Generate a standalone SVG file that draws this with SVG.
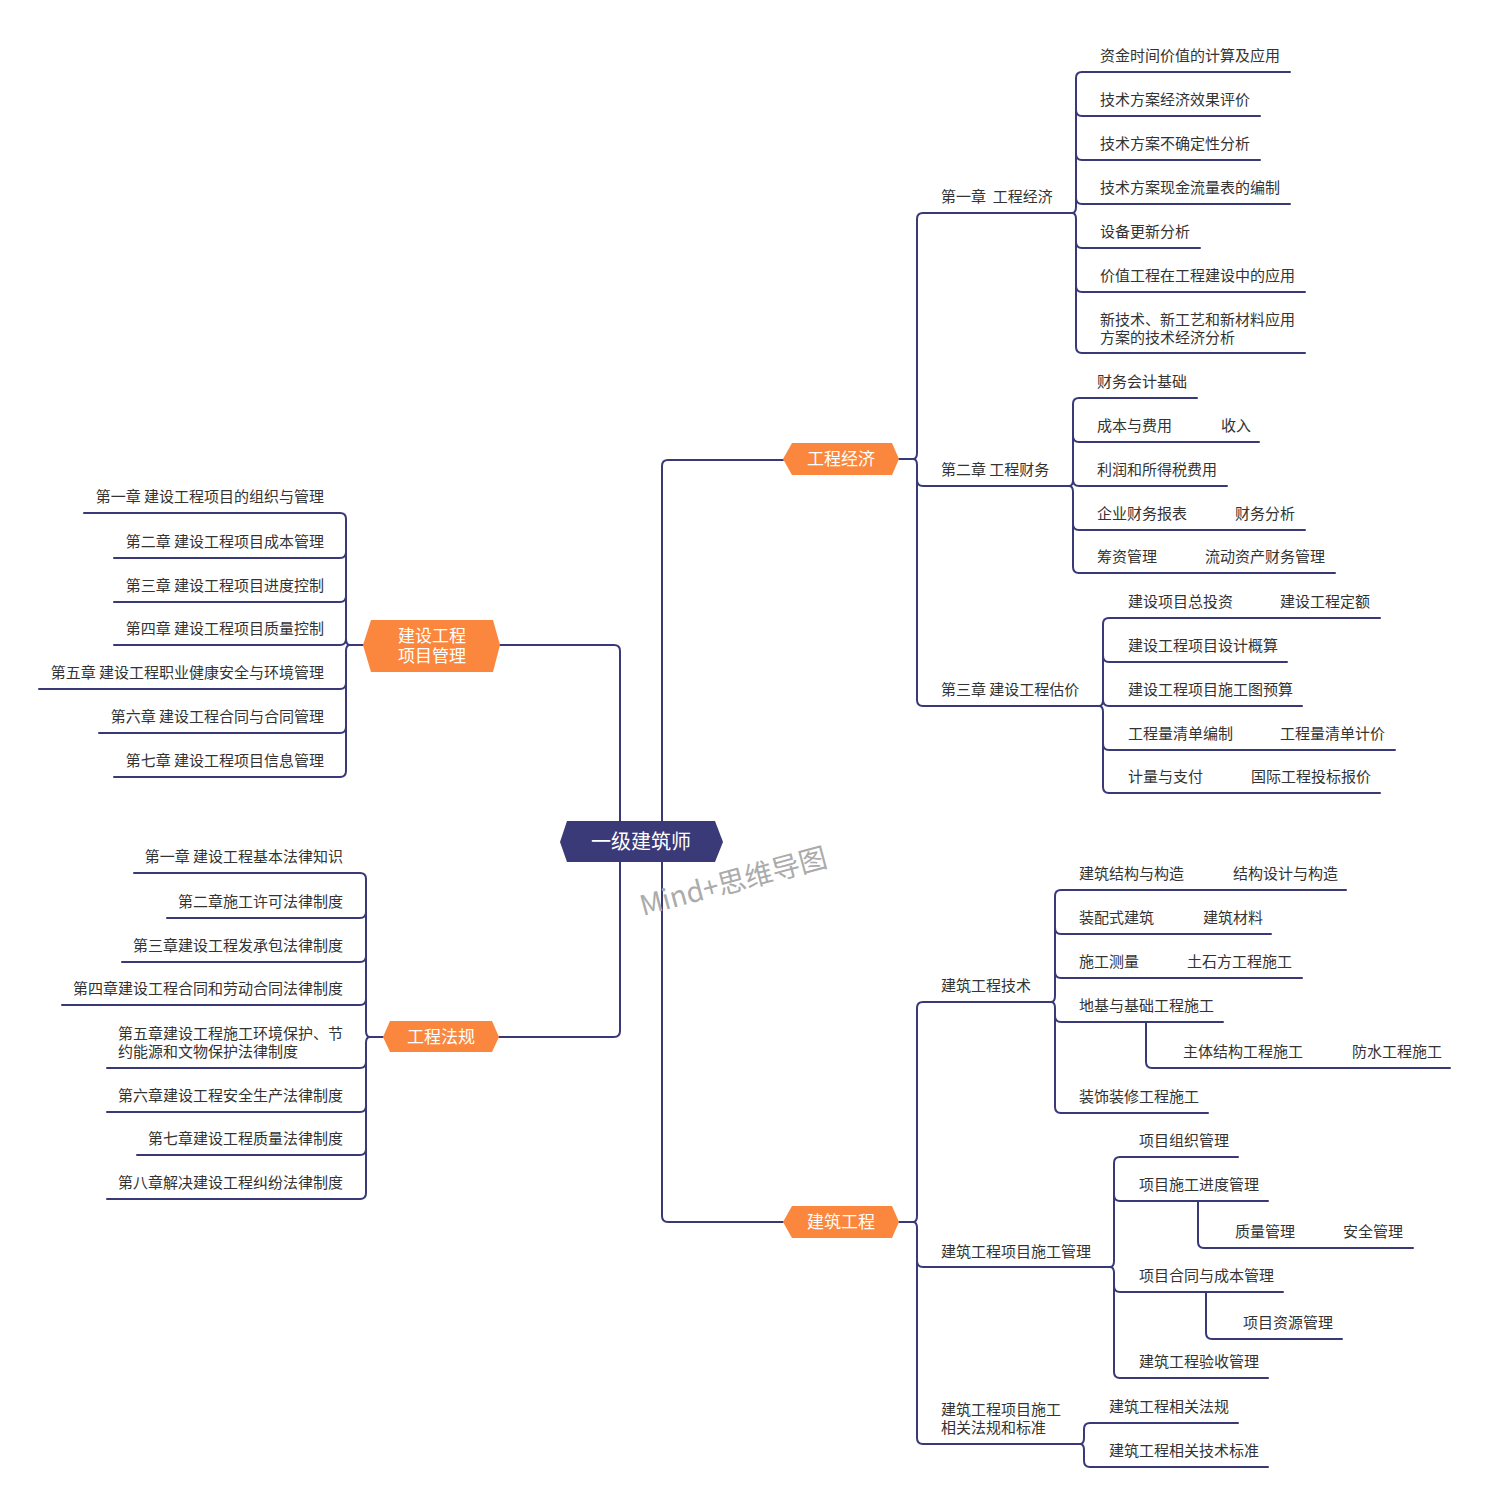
<svg xmlns="http://www.w3.org/2000/svg" width="1489" height="1507" viewBox="0 0 1489 1507">
<style>
.ln{fill:none;stroke:#393978;stroke-width:2;stroke-linecap:round;stroke-linejoin:round}
.t{font-family:"Noto Sans CJK SC","Noto Sans",sans-serif;font-size:15px;fill:#333}
.e{text-anchor:end}
.on{fill:#fa873d}
.ot{font-family:"Noto Sans CJK SC","Noto Sans",sans-serif;font-size:17px;fill:#fff;text-anchor:middle}
.wm{font-family:"Noto Sans CJK SC","Noto Sans",sans-serif;font-size:28px;fill:#ababab}
</style>
<rect width="1489" height="1507" fill="#fff"/>
<g id="connectors" class="ln">
<path d="M500 645 H614 Q620 645 620 651 V821"/>
<path d="M499 1037 H614 Q620 1037 620 1031 V862"/>
<path d="M662 821 V466 Q662 460 668 460 H783"/>
<path d="M662 862 V1216 Q662 1222 668 1222 H783"/>
<path d="M899 459 H913"/>
<path d="M923 213 Q917 213 917 219 V453 Q917 459 913 459 Q917 459 917 465 V700 Q917 706 923 706"/>
<path d="M923 213 H1072"/>
<path d="M917 480 Q917 486 923 486 H1069"/>
<path d="M923 706 H1099"/>
<path d="M1082 72 Q1076 72 1076 78 V207 Q1076 213 1072 213 Q1076 213 1076 219 V347 Q1076 353 1082 353"/>
<path d="M1082 72 H1290"/>
<path d="M1076 110 Q1076 116 1082 116 H1260"/>
<path d="M1076 154 Q1076 160 1082 160 H1260"/>
<path d="M1076 198 Q1076 204 1082 204 H1290"/>
<path d="M1076 242 Q1076 248 1082 248 H1200"/>
<path d="M1076 286 Q1076 292 1082 292 H1305"/>
<path d="M1082 353 H1305"/>
<path d="M1079 398 Q1073 398 1073 404 V480 Q1073 486 1069 486 Q1073 486 1073 492 V567 Q1073 573 1079 573"/>
<path d="M1079 398 H1197"/>
<path d="M1073 436 Q1073 442 1079 442 H1259"/>
<path d="M1073 480 Q1073 486 1079 486 H1227"/>
<path d="M1073 524 Q1073 530 1079 530 H1305"/>
<path d="M1079 573 H1335"/>
<path d="M1109 618 Q1103 618 1103 624 V700 Q1103 706 1099 706 Q1103 706 1103 712 V787 Q1103 793 1109 793"/>
<path d="M1109 618 H1380"/>
<path d="M1103 656 Q1103 662 1109 662 H1287"/>
<path d="M1103 700 Q1103 706 1109 706 H1302"/>
<path d="M1103 744 Q1103 750 1109 750 H1395"/>
<path d="M1109 793 H1380"/>
<path d="M899 1222 H913"/>
<path d="M923 1002 Q917 1002 917 1008 V1216 Q917 1222 913 1222 Q917 1222 917 1228 V1438 Q917 1444 923 1444"/>
<path d="M923 1002 H1051"/>
<path d="M917 1261 Q917 1267 923 1267 H1110"/>
<path d="M923 1444 H1080"/>
<path d="M1061 890 Q1055 890 1055 896 V996 Q1055 1002 1051 1002 Q1055 1002 1055 1008 V1107 Q1055 1113 1061 1113"/>
<path d="M1061 890 H1346"/>
<path d="M1055 928 Q1055 934 1061 934 H1271"/>
<path d="M1055 972 Q1055 978 1061 978 H1302"/>
<path d="M1055 1016 Q1055 1022 1061 1022 H1223"/>
<path d="M1061 1113 H1208"/>
<path d="M1146 1022 V1062 Q1146 1068 1152 1068 H1450"/>
<path d="M1120 1157 Q1114 1157 1114 1163 V1261 Q1114 1267 1110 1267 Q1114 1267 1114 1273 V1372 Q1114 1378 1120 1378"/>
<path d="M1120 1157 H1238"/>
<path d="M1114 1195 Q1114 1201 1120 1201 H1268"/>
<path d="M1114 1286 Q1114 1292 1120 1292 H1283"/>
<path d="M1120 1378 H1268"/>
<path d="M1198 1201 V1242 Q1198 1248 1204 1248 H1413"/>
<path d="M1206 1292 V1333 Q1206 1339 1212 1339 H1342"/>
<path d="M1090 1423 Q1084 1423 1084 1429 V1438 Q1084 1444 1080 1444 Q1084 1444 1084 1450 V1461 Q1084 1467 1090 1467"/>
<path d="M1090 1423 H1238"/>
<path d="M1090 1467 H1268"/>
<path d="M363 645 H350"/>
<path d="M340 513 Q346 513 346 519 V639 Q346 645 350 645 Q346 645 346 651 V771 Q346 777 340 777"/>
<path d="M340 513 H84"/>
<path d="M346 552 Q346 558 340 558 H114"/>
<path d="M346 596 Q346 602 340 602 H114"/>
<path d="M346 639 Q346 645 340 645 H114"/>
<path d="M346 683 Q346 689 340 689 H39"/>
<path d="M346 727 Q346 733 340 733 H99"/>
<path d="M340 777 H114"/>
<path d="M383 1037 H370"/>
<path d="M360 873 Q366 873 366 879 V1031 Q366 1037 370 1037 Q366 1037 366 1043 V1193 Q366 1199 360 1199"/>
<path d="M360 873 H134"/>
<path d="M366 912 Q366 918 360 918 H167"/>
<path d="M366 956 Q366 962 360 962 H122"/>
<path d="M366 999 Q366 1005 360 1005 H62"/>
<path d="M366 1062 Q366 1068 360 1068 H107"/>
<path d="M366 1106 Q366 1112 360 1112 H107"/>
<path d="M366 1149 Q366 1155 360 1155 H137"/>
<path d="M360 1199 H107"/>
</g>
<g id="root">
<polygon points="560,842 567,821 715,821 723,842 715,862 567,862" fill="#3a3a78"/>
<text x="641" y="849" font-family="Noto Sans CJK SC, Noto Sans, sans-serif" font-size="20" fill="#fff" text-anchor="middle">一级建筑师</text>
</g>
<g id="n-gcjj">
<polygon class="on" points="783,459 792,443 892,443 899,459 892,475 792,475"/>
<text class="ot" x="841" y="465">工程经济</text>
</g>
<g id="n-jzgc">
<polygon class="on" points="783,1222 792,1206 892,1206 899,1222 892,1238 792,1238"/>
<text class="ot" x="841" y="1228">建筑工程</text>
</g>
<g id="n-xmgl">
<polygon class="on" points="363,645 371,620 493,620 500,645 493,672 371,672"/>
<text class="ot" x="432" y="641.5">建设工程<tspan x="432" dy="20">项目管理</tspan></text>
</g>
<g id="n-gcfg">
<polygon class="on" points="383,1037 390,1021 492,1021 499,1037 492,1052 390,1052"/>
<text class="ot" x="441" y="1043">工程法规</text>
</g>
<g id="gcjj-children">
<g id="c1"><text class="t" x="941" y="202" xml:space="preserve">第一章  工程经济</text></g>
<g id="c1-1"><text class="t" x="1100" y="61">资金时间价值的计算及应用</text></g>
<g id="c1-2"><text class="t" x="1100" y="105">技术方案经济效果评价</text></g>
<g id="c1-3"><text class="t" x="1100" y="149">技术方案不确定性分析</text></g>
<g id="c1-4"><text class="t" x="1100" y="193">技术方案现金流量表的编制</text></g>
<g id="c1-5"><text class="t" x="1100" y="237">设备更新分析</text></g>
<g id="c1-6"><text class="t" x="1100" y="281">价值工程在工程建设中的应用</text></g>
<g id="c1-7"><text class="t" x="1100" y="325">新技术、新工艺和新材料应用<tspan x="1100" dy="18">方案的技术经济分析</tspan></text></g>
<g id="c2"><text class="t" x="941" y="475">第二章 工程财务</text></g>
<g id="c2-1"><text class="t" x="1097" y="387">财务会计基础</text></g>
<g id="c2-2"><text class="t" x="1097" y="431">成本与费用</text><text class="t" x="1221" y="431">收入</text></g>
<g id="c2-3"><text class="t" x="1097" y="475">利润和所得税费用</text></g>
<g id="c2-4"><text class="t" x="1097" y="519">企业财务报表</text><text class="t" x="1235" y="519">财务分析</text></g>
<g id="c2-5"><text class="t" x="1097" y="562">筹资管理</text><text class="t" x="1205" y="562">流动资产财务管理</text></g>
<g id="c3"><text class="t" x="941" y="695">第三章 建设工程估价</text></g>
<g id="c3-1"><text class="t" x="1128" y="607">建设项目总投资</text><text class="t" x="1280" y="607">建设工程定额</text></g>
<g id="c3-2"><text class="t" x="1128" y="651">建设工程项目设计概算</text></g>
<g id="c3-3"><text class="t" x="1128" y="695">建设工程项目施工图预算</text></g>
<g id="c3-4"><text class="t" x="1128" y="739">工程量清单编制</text><text class="t" x="1280" y="739">工程量清单计价</text></g>
<g id="c3-5"><text class="t" x="1128" y="782">计量与支付</text><text class="t" x="1251" y="782">国际工程投标报价</text></g>
</g>
<g id="jzgc-children">
<g id="d1"><text class="t" x="941" y="991">建筑工程技术</text></g>
<g id="d1-1"><text class="t" x="1079" y="879">建筑结构与构造</text><text class="t" x="1233" y="879">结构设计与构造</text></g>
<g id="d1-2"><text class="t" x="1079" y="923">装配式建筑</text><text class="t" x="1203" y="923">建筑材料</text></g>
<g id="d1-3"><text class="t" x="1079" y="967">施工测量</text><text class="t" x="1187" y="967">土石方工程施工</text></g>
<g id="d1-4"><text class="t" x="1079" y="1011">地基与基础工程施工</text></g>
<g id="d1-4-1"><text class="t" x="1183" y="1057">主体结构工程施工</text><text class="t" x="1352" y="1057">防水工程施工</text></g>
<g id="d1-5"><text class="t" x="1079" y="1102">装饰装修工程施工</text></g>
<g id="d2"><text class="t" x="941" y="1257">建筑工程项目施工管理</text></g>
<g id="d2-1"><text class="t" x="1139" y="1146">项目组织管理</text></g>
<g id="d2-2"><text class="t" x="1139" y="1190">项目施工进度管理</text></g>
<g id="d2-2-1"><text class="t" x="1235" y="1237">质量管理</text><text class="t" x="1343" y="1237">安全管理</text></g>
<g id="d2-3"><text class="t" x="1139" y="1281">项目合同与成本管理</text></g>
<g id="d2-3-1"><text class="t" x="1243" y="1328">项目资源管理</text></g>
<g id="d2-4"><text class="t" x="1139" y="1367">建筑工程验收管理</text></g>
<g id="d3"><text class="t" x="941" y="1415">建筑工程项目施工<tspan x="941" dy="18">相关法规和标准</tspan></text></g>
<g id="d3-1"><text class="t" x="1109" y="1412">建筑工程相关法规</text></g>
<g id="d3-2"><text class="t" x="1109" y="1456">建筑工程相关技术标准</text></g>
</g>
<g id="xmgl-children">
<g id="a1"><text class="t e" x="324" y="502">第一章 建设工程项目的组织与管理</text></g>
<g id="a2"><text class="t e" x="324" y="547">第二章 建设工程项目成本管理</text></g>
<g id="a3"><text class="t e" x="324" y="591">第三章 建设工程项目进度控制</text></g>
<g id="a4"><text class="t e" x="324" y="634">第四章 建设工程项目质量控制</text></g>
<g id="a5"><text class="t e" x="324" y="678">第五章 建设工程职业健康安全与环境管理</text></g>
<g id="a6"><text class="t e" x="324" y="722">第六章 建设工程合同与合同管理</text></g>
<g id="a7"><text class="t e" x="324" y="766">第七章 建设工程项目信息管理</text></g>
</g>
<g id="gcfg-children">
<g id="b1"><text class="t e" x="343" y="862">第一章 建设工程基本法律知识</text></g>
<g id="b2"><text class="t e" x="343" y="907">第二章施工许可法律制度</text></g>
<g id="b3"><text class="t e" x="343" y="951">第三章建设工程发承包法律制度</text></g>
<g id="b4"><text class="t e" x="343" y="994">第四章建设工程合同和劳动合同法律制度</text></g>
<g id="b5"><text class="t" x="118" y="1039">第五章建设工程施工环境保护、节<tspan x="118" dy="18">约能源和文物保护法律制度</tspan></text></g>
<g id="b6"><text class="t e" x="343" y="1101">第六章建设工程安全生产法律制度</text></g>
<g id="b7"><text class="t e" x="343" y="1144">第七章建设工程质量法律制度</text></g>
<g id="b8"><text class="t e" x="343" y="1188">第八章解决建设工程纠纷法律制度</text></g>
</g>
<text class="wm" x="643" y="916" transform="rotate(-15 643 916)">Mind+思维导图</text>
</svg>
